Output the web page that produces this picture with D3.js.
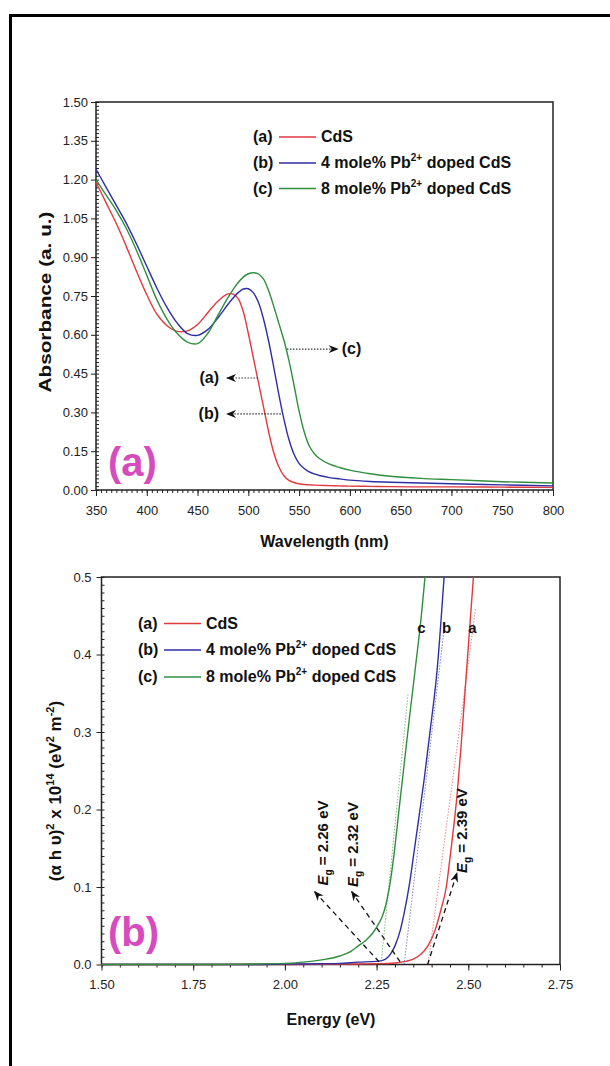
<!DOCTYPE html>
<meta charset="utf-8">
<title>CdS absorbance and Tauc plot</title>
<script src="https://d3js.org/d3.v7.min.js"></script>
<style>
  body { margin: 0; background: #fff; }
  svg text { font-family: "Liberation Sans", Arial, sans-serif; }
</style>
<div id="chart"></div>
<script>

// ---- panel (a): absorbance vs wavelength ----
var wavelengths = [350,360,370,380,390,400,410,420,430,440,450,460,470,480,485,490,495,500,505,510,
                   515,520,525,530,535,540,545,550,555,560,565,570,580,590,600,620,640,670,700,750,800];
var absCdS = [1.19,1.11,1.03,0.94,0.845,0.755,0.68,0.635,0.613,0.615,0.64,0.685,0.73,0.758,0.757,0.74,0.69,0.605,0.51,0.415,
              0.32,0.225,0.145,0.09,0.055,0.037,0.029,0.024,0.021,0.02,0.019,0.018,0.017,0.016,0.015,0.014,0.013,0.012,0.012,0.011,0.01];
var absPb4 = [1.24,1.17,1.10,1.03,0.95,0.865,0.78,0.705,0.645,0.605,0.598,0.62,0.665,0.718,0.742,0.763,0.777,0.778,0.762,0.725,
              0.66,0.575,0.475,0.37,0.275,0.195,0.138,0.102,0.083,0.07,0.062,0.056,0.048,0.043,0.038,0.033,0.03,0.027,0.024,0.02,0.016];
var absPb8 = [1.20,1.14,1.08,1.01,0.925,0.83,0.735,0.66,0.605,0.572,0.566,0.605,0.675,0.745,0.775,0.802,0.823,0.836,0.84,0.835,
              0.815,0.77,0.71,0.645,0.58,0.50,0.405,0.305,0.225,0.17,0.14,0.122,0.1,0.087,0.077,0.063,0.053,0.045,0.04,0.032,0.027];
var wlTicks = [350,400,450,500,550,600,650,700,750,800];
var absTicks = [0,0.15,0.30,0.45,0.60,0.75,0.90,1.05,1.20,1.35,1.50];

// ---- panel (b): (alpha h nu)^2 vs energy ----
var eCdS = [1.50,1.80,2.00,2.10,2.20,2.25,2.30,2.33,2.35,2.37,2.39,2.41,2.425,2.44,2.45,2.46,2.47,2.48,2.49,2.50,2.514];
var tCdS = [0,0,0,0.0003,0.0007,0.001,0.002,0.004,0.007,0.013,0.024,0.045,0.07,0.1,0.137,0.177,0.222,0.28,0.345,0.41,0.5];
var ePb4 = [1.50,1.90,2.00,2.10,2.15,2.20,2.25,2.27,2.29,2.30,2.315,2.325,2.34,2.352,2.366,2.38,2.395,2.415,2.434];
var tPb4 = [0,0,0.0005,0.001,0.0015,0.003,0.004,0.006,0.015,0.024,0.045,0.066,0.105,0.145,0.192,0.24,0.298,0.38,0.5];
var ePb8 = [1.50,1.80,1.90,2.00,2.05,2.10,2.15,2.18,2.20,2.22,2.24,2.255,2.27,2.288,2.299,2.31,2.325,2.34,2.355,2.373,2.382];
var tPb8 = [0,0,0.0005,0.0015,0.003,0.006,0.011,0.017,0.024,0.031,0.041,0.052,0.068,0.109,0.148,0.195,0.258,0.32,0.38,0.455,0.5];
var energyTicks = [1.50,1.75,2.00,2.25,2.50,2.75];
var taucTicks = [0,0.1,0.2,0.3,0.4,0.5];

// band gap tangents (foot on the axis, upper end) and labels
var gapValues = ["2.39","2.32","2.26"];
var tangentFoot = [2.39,2.325,2.262];
var tangentTop = [[2.52,0.46],[2.436,0.44],[2.336,0.35]];

var legendKeys = ["(a)","(b)","(c)"];
var colors = ["#e0393e","#2e2ea6","#2f8f3f"];

var svg = d3.select("#chart").append("svg")
    .attr("width", 610).attr("height", 1066);

// outer frame of the figure
svg.append("path").attr("d", "M610,15.5H10.5V1066")
    .attr("fill", "none").attr("stroke", "#000").attr("stroke-width", 3);

var defs = svg.append("defs");
defs.append("marker").attr("id", "head")
    .attr("viewBox", "0 0 10 8").attr("refX", 9).attr("refY", 4)
    .attr("markerWidth", 10).attr("markerHeight", 8)
    .attr("markerUnits", "userSpaceOnUse").attr("orient", "auto")
  .append("path").attr("d", "M0,0L10,4L0,8L3,4Z").attr("fill", "#111");

function range(a, b, s) {
  var out = [];
  for (var i = 0; a + i * s <= b + s / 1000; i++) out.push(+(a + i * s).toFixed(4));
  return out;
}

function axes(p, x, y, xTicks, yTicks, xMinor, yMinor, xFmt, yFmt, xPad, yPad) {
  var g = svg.append("g").attr("class", "axes");
  g.append("g").attr("transform", "translate(0," + p.bottom + ")")
    .call(d3.axisBottom(x).tickValues(xMinor).tickSize(3).tickSizeOuter(0).tickFormat(""));
  g.append("g").attr("transform", "translate(0," + p.bottom + ")")
    .call(d3.axisBottom(x).tickValues(xTicks).tickSize(6).tickSizeOuter(0).tickPadding(xPad).tickFormat(d3.format(xFmt)));
  g.append("g").attr("transform", "translate(" + p.left + ",0)")
    .call(d3.axisRight(y).tickValues(yMinor).tickSize(3).tickSizeOuter(0).tickFormat(""));
  g.append("g").attr("transform", "translate(" + p.left + ",0)")
    .call(d3.axisLeft(y).tickValues(yTicks).tickSize(5).tickSizeOuter(0).tickPadding(yPad).tickFormat(d3.format(yFmt)));
  g.selectAll(".domain").remove();
  g.selectAll(".tick line").attr("stroke", "#222").attr("stroke-width", 1);
  g.selectAll(".tick text").attr("font-size", 13).attr("fill", "#222");
  // plot frame
  svg.append("rect").attr("x", p.left).attr("y", p.top)
    .attr("width", p.right - p.left).attr("height", p.bottom - p.top)
    .attr("fill", "none").attr("stroke", "#222").attr("stroke-width", 1.5);
}

function legend(x0, rows) {
  var g = svg.append("g").attr("font-size", 16).attr("font-weight", "bold").attr("fill", "#111");
  legendKeys.forEach(function(k, i) {
    var cy = rows[i];
    g.append("text").attr("x", x0).attr("y", cy + 5).text(k);
    g.append("line").attr("x1", x0 + 26).attr("x2", x0 + 63).attr("y1", cy).attr("y2", cy)
      .attr("stroke", colors[i]).attr("stroke-width", 1.5);
    var t = g.append("text").attr("x", x0 + 68).attr("y", cy + 5);
    if (i == 0) { t.text("CdS"); return; }
    t.append("tspan").text((i == 1 ? "4" : "8") + " mole% Pb");
    t.append("tspan").attr("font-size", 10).attr("dy", -7).text("2+");
    t.append("tspan").attr("dy", 7).text(" doped CdS");
  });
}

// ===== panel (a) =====
var pa = {left: 96, right: 553, top: 102, bottom: 490};
var xa = d3.scaleLinear().domain([350, 800]).range([pa.left, pa.right]);
var ya = d3.scaleLinear().domain([0, 1.5]).range([pa.bottom, pa.top]);

axes(pa, xa, ya, wlTicks, absTicks, range(350, 800, 5), range(0, 1.5, 0.015), "d", ".2f", 10, 3);

var lineA = d3.line().x(function(d) { return xa(d[0]); }).y(function(d) { return ya(d[1]); })
    .curve(d3.curveCatmullRom.alpha(0.5));
[absCdS, absPb4, absPb8].forEach(function(s, i) {
  svg.append("path").datum(wavelengths.map(function(w, j) { return [w, s[j]]; }))
    .attr("d", lineA).attr("fill", "none").attr("stroke", colors[i]).attr("stroke-width", 1.4);
});

legend(253, [137, 163, 188.5]);

// dotted pointer arrows
var pointers = [
  {from: [538, 0.545], to: [588, 0.545], label: "(c)", side: "right"},
  {from: [509.5, 0.433], to: [479, 0.433], label: "(a)", side: "left"},
  {from: [532, 0.294], to: [479, 0.294], label: "(b)", side: "left"}
];
pointers.forEach(function(p) {
  svg.append("line")
    .attr("x1", xa(p.from[0])).attr("y1", ya(p.from[1]))
    .attr("x2", xa(p.to[0])).attr("y2", ya(p.to[1]))
    .attr("stroke", "#333").attr("stroke-width", 1.2).attr("stroke-dasharray", "1.5,1.5")
    .attr("marker-end", "url(#head)");
  svg.append("text")
    .attr("x", xa(p.to[0]) + (p.side == "right" ? 4 : -8))
    .attr("y", ya(p.to[1]) + 5)
    .attr("text-anchor", p.side == "right" ? "start" : "end")
    .attr("font-size", 16).attr("font-weight", "bold").attr("fill", "#111")
    .text(p.label);
});

svg.append("text").attr("x", 108).attr("y", 476)
  .attr("font-size", 40).attr("font-weight", "bold").attr("fill", "#d64bbd").text("(a)");

svg.append("text").attr("x", (pa.left + pa.right) / 2).attr("y", 547)
  .attr("text-anchor", "middle").attr("font-size", 16).attr("font-weight", "bold").attr("fill", "#111")
  .text("Wavelength (nm)");
svg.append("text").attr("transform", "translate(51," + 302 + ") rotate(-90)")
  .attr("text-anchor", "middle").attr("font-size", 17).attr("font-weight", "bold").attr("fill", "#111")
  .attr("textLength", 181).attr("lengthAdjust", "spacingAndGlyphs")
  .text("Absorbance (a. u.)");

// ===== panel (b) =====
var pb = {left: 101.5, right: 560, top: 577, bottom: 964.5};
var xb = d3.scaleLinear().domain([1.5, 2.75]).range([pb.left, pb.right]);
var yb = d3.scaleLinear().domain([0, 0.5]).range([pb.bottom, pb.top]);

axes(pb, xb, yb, energyTicks, taucTicks, range(1.5, 2.75, 0.05), range(0, 0.5, 0.01), ".2f", ".1f", 9.5, 5);

var lineB = d3.line().x(function(d) { return xb(d[0]); }).y(function(d) { return yb(d[1]); })
    .curve(d3.curveMonotoneX);
[[eCdS, tCdS], [ePb4, tPb4], [ePb8, tPb8]].forEach(function(s, i) {
  svg.append("path").datum(s[0].map(function(e, j) { return [e, s[1][j]]; }))
    .attr("d", lineB).attr("fill", "none").attr("stroke", colors[i]).attr("stroke-width", 1.4);
  // extrapolated tangent
  svg.append("line")
    .attr("x1", xb(tangentFoot[i])).attr("y1", yb(0))
    .attr("x2", xb(tangentTop[i][0])).attr("y2", yb(tangentTop[i][1]))
    .attr("stroke", colors[i]).attr("stroke-opacity", 0.6).attr("stroke-width", 1)
    .attr("stroke-dasharray", "1.5,1.5");
});

legend(138, [623.5, 650, 677]);

// curve letters near the top
var curveLetters = [[2.511, 0.428, "a"], [2.441, 0.428, "b"], [2.372, 0.428, "c"]];
curveLetters.forEach(function(c) {
  svg.append("text").attr("x", xb(c[0])).attr("y", yb(c[1]))
    .attr("text-anchor", "middle").attr("font-size", 15).attr("font-weight", "bold").attr("fill", "#111")
    .text(c[2]);
});

// dashed arrows pointing to the band gap labels
var gapArrows = [
  {from: [2.389, 0.0], to: [2.469, 0.118], text: [2.496, 0.118]},
  {from: [2.314, 0.0036], to: [2.182, 0.094], text: [2.200, 0.100]},
  {from: [2.2565, 0.0036], to: [2.081, 0.094], text: [2.118, 0.102]}
];
gapArrows.forEach(function(a, i) {
  svg.append("line")
    .attr("x1", xb(a.from[0])).attr("y1", yb(a.from[1]))
    .attr("x2", xb(a.to[0])).attr("y2", yb(a.to[1]))
    .attr("stroke", "#111").attr("stroke-width", 1.3).attr("stroke-dasharray", "5,4")
    .attr("marker-end", "url(#head)");
  var t = svg.append("text")
    .attr("transform", "translate(" + xb(a.text[0]) + "," + yb(a.text[1]) + ") rotate(-90)")
    .attr("font-size", 15).attr("font-weight", "bold").attr("fill", "#111");
  t.append("tspan").attr("font-style", "italic").text("E");
  t.append("tspan").attr("font-size", 10).attr("dy", 4).text("g");
  t.append("tspan").attr("dy", -4).text(" = " + gapValues[i] + " eV");
});

svg.append("text").attr("x", 108).attr("y", 946)
  .attr("font-size", 40).attr("font-weight", "bold").attr("fill", "#d64bbd").text("(b)");

svg.append("text").attr("x", 331).attr("y", 1025)
  .attr("text-anchor", "middle").attr("font-size", 16).attr("font-weight", "bold").attr("fill", "#111")
  .text("Energy (eV)");

var yt = svg.append("text").attr("transform", "translate(61,791) rotate(-90)")
  .attr("text-anchor", "middle").attr("font-size", 17).attr("font-weight", "bold").attr("fill", "#111");
[["(\u03b1 h \u03c5)", 0], ["2", -1], [" x 10", 1], ["14", -1], [" (eV", 1], ["2", -1], [" m", 1], ["-2", -1], [")", 1]]
  .forEach(function(p) {
    var s = yt.append("tspan").text(p[0]);
    if (p[1] < 0) s.attr("font-size", 11).attr("dy", -7);
    else if (s.node().previousSibling) s.attr("dy", 7);
  });

</script>
